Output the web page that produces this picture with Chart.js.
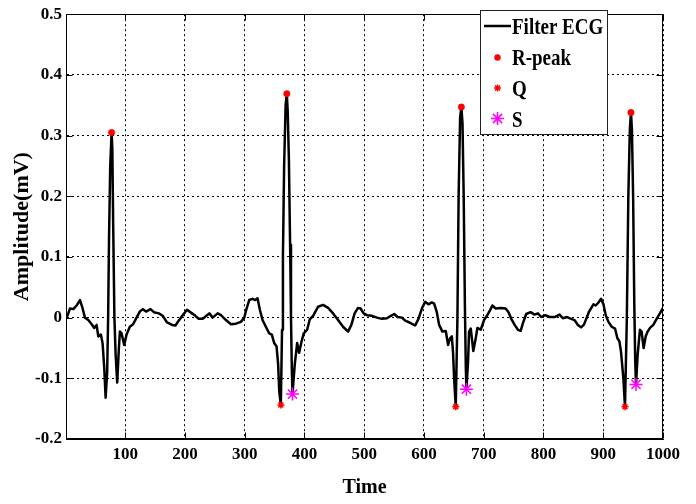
<!DOCTYPE html>
<html>
<head>
<meta charset="utf-8">
<script src="https://cdn.jsdelivr.net/npm/chart.js@4.4.0/dist/chart.umd.min.js"></script>
<style>
html,body{margin:0;padding:0;background:#fff;}
#wrap{position:relative;width:696px;height:504px;}
</style>
</head>
<body>
<div id="wrap"><canvas id="c" width="696" height="504"></canvas></div>
<script>
// ---- data ----
const ecgTime = [
  1.5,3.8,7.7,13.2,18.8,24.4,28.3,32.7,38.3,43.9,
  48.3,52.2,55,59.4,62.2,65,67.3,69.9,71.5,73,
  75,77.3,78.5,80,82,84,86.7,89.5,91.2,94,
  98.4,102.3,107.8,113.4,119,124.5,
  129.6,135,142.4,148,156.3,163,170.1,178.5,184.1,189.6,
  196.3,203.5,211.9,217.5,223,229.7,235.9,240.9,246.4,254.8,
  260.3,268.6,277,285.3,293.7,299.3,303.2,307.6,313.2,317.7,
  321.5,325.4,329.9,335.4,341.1,345.4,349.4,353.3,356,357.8,
  360.5,362.5,364,366,368.5,370.5,372,374,376,377.5,379,380,
  383.8,387.8,391.1,395,398.8,404.5,408.9,414.5,422.9,431.2,
  439.6,447.9,456.3,464.6,473,478.5,484,489.6,494,499,
  504.7,513,521.4,529.7,538.1,544.7,550.3,555.8,563.1,568.6,
  575.8,581.5,585.3,590.8,596.5,602,607.5,613.2,617,621.5,
  625.4,630.9,636.5,640.4,643.7,646.6,648.7,650.4,
  653.2,656,658,660.5,662.6,664.5,666.5,668.5,670,671,
  673.8,675.5,678.3,682.6,686.6,689.4,695,700.5,706,710.5,
  714.4,720,728.4,736.7,741.5,746.1,751.8,757.3,761.8,765.6,
  771.1,778.5,785.1,790.7,796.2,802.9,810.2,818.5,826.9,832.4,
  839.6,846.3,851.9,857.4,862.9,867.4,869.6,876.3,883.6,887.5,
  892,896.4,900.3,904.2,908.7,914.2,919.7,923.7,927,929.7,933.7,
  936.4,939.5,942,944.5,946.4,948,950,952,953.5,954.8,
  957.6,961.4,964.2,967.6,971,974.3,978.2,983.8,989.3,994.8,999.3,1000
];
const ecgAmp = [
  0,0.004,0.015,0.014,0.020,0.029,0.017,0,-0.004,-0.011,
  -0.017,-0.012,-0.031,-0.028,-0.042,-0.083,-0.132,-0.09,0,0.13,
  0.25,0.305,0.28,0.15,0,-0.06,-0.107,-0.050,-0.023,-0.026,
  -0.045,-0.028,-0.015,-0.011,0,0.010,
  0.014,0.010,0.014,0.009,0.007,0.003,-0.008,-0.012,-0.013,-0.005,
  0.004,0.013,0.007,0.003,-0.002,-0.002,0.003,0.007,0,0.007,
  0.004,-0.004,-0.011,-0.010,-0.007,0,0.015,0.029,0.031,0.029,
  0.032,0.013,-0.004,-0.015,-0.026,-0.028,-0.042,-0.047,-0.077,-0.121,
  -0.144,-0.02,0.1,0.25,0.35,0.369,0.34,0.26,0.12,0,-0.09,-0.126,
  -0.077,-0.042,-0.058,-0.040,-0.026,-0.020,-0.003,0.003,0.018,0.021,
  0.016,0.007,-0.004,-0.015,-0.023,-0.012,0.007,0.016,0.015,0.007,
  0.004,0.003,0,-0.002,-0.001,0.003,0.006,0.001,0,-0.005,
  -0.008,-0.011,-0.013,-0.002,0.015,0.026,0.022,0.025,0.023,0.009,
  -0.012,-0.023,-0.022,-0.045,-0.034,-0.031,-0.058,-0.099,
  -0.147,0,0.2,0.33,0.347,0.32,0.2,0.02,-0.08,-0.118,
  -0.072,-0.023,-0.018,-0.055,-0.034,-0.017,-0.020,-0.004,0.004,0.012,
  0.020,0.015,0.016,0.015,0.009,-0.002,-0.012,-0.020,-0.022,-0.009,
  0.006,0.009,0.005,0.007,0.001,0.004,0.001,0.001,0.005,-0.001,
  0.001,-0.002,-0.004,-0.012,-0.016,-0.012,-0.007,0.010,0.022,0.020,
  0.025,0.031,0.022,0.004,-0.007,-0.015,-0.018,-0.034,-0.039,-0.056,-0.100,
  -0.147,0,0.2,0.31,0.338,0.31,0.2,0.02,-0.07,-0.110,
  -0.061,-0.020,-0.023,-0.050,-0.031,-0.023,-0.017,-0.012,-0.002,0.007,0.015,0.016
];
const rPeakTime = [77.3, 370.5, 662.6, 946.4];
const rPeakAmp  = [0.305, 0.369, 0.347, 0.338];
const qTime = [360.5, 653.2, 936.4];
const qAmp  = [-0.144, -0.147, -0.147];
const sTime = [380, 671, 954.8];
const sAmp  = [-0.126, -0.118, -0.110];
const xTickValues = [100,200,300,400,500,600,700,800,900,1000];
const yTickValues = [-0.2,-0.1,0,0.1,0.2,0.3,0.4,0.5];
const seriesNames = ['Filter ECG','R-peak','Q','S'];
const xTitle = 'Time';
const yTitle = 'Amplitude(mV)';

// ---- chart ----
const FONT = 'Liberation Serif';
const toXY = (xs, ys) => xs.map((x, i) => ({x: x, y: ys[i]}));

function drawMarker(ctx, style, x, y, r, color, lw) {
  ctx.save();
  ctx.strokeStyle = color; ctx.fillStyle = color; ctx.lineWidth = lw;
  if (style === 'circle') {
    ctx.beginPath(); ctx.arc(x, y, r, 0, Math.PI * 2); ctx.fill();
  } else {
    ctx.beginPath();
    for (let k = 0; k < 4; k++) {
      const a = k * Math.PI / 4;
      ctx.moveTo(x - r * Math.cos(a), y - r * Math.sin(a));
      ctx.lineTo(x + r * Math.cos(a), y + r * Math.sin(a));
    }
    ctx.stroke();
  }
  ctx.restore();
}

const framePlugin = {
  id: 'frameLegend',
  afterDraw(chart) {
    const ctx = chart.ctx, a = chart.chartArea, xs = chart.scales.x, ys = chart.scales.y;
    ctx.save();
    ctx.strokeStyle = '#000'; ctx.lineWidth = 1;
    const L = Math.round(a.left) + 0.5, T = Math.round(a.top) + 0.5;
    const R = Math.round(a.right) - 0.5, B = Math.round(a.bottom) - 0.5;
    ctx.strokeRect(L, T, R - L, B - T);
    ctx.beginPath();
    xTickValues.forEach(v => {
      const px = Math.round(xs.getPixelForValue(v)) + 0.5;
      ctx.moveTo(px, B); ctx.lineTo(px, B - 6);
      ctx.moveTo(px, T); ctx.lineTo(px, T + 6);
    });
    yTickValues.forEach(v => {
      const py = Math.round(ys.getPixelForValue(v)) + 0.5;
      ctx.moveTo(L, py); ctx.lineTo(L + 6, py);
      ctx.moveTo(R, py); ctx.lineTo(R - 6, py);
    });
    ctx.stroke();

    // legend box
    const bx = 480.5, by = 10.5, bw = 127, bh = 124;
    ctx.fillStyle = '#fff';
    ctx.fillRect(bx, by, bw, bh);
    ctx.strokeStyle = '#222'; ctx.lineWidth = 1;
    ctx.strokeRect(bx, by, bw, bh);
    const rows = [26, 57.5, 88, 118.5];
    const ds = chart.data.datasets;
    ctx.strokeStyle = '#000'; ctx.lineWidth = 2.5;
    ctx.beginPath(); ctx.moveTo(484, rows[0]); ctx.lineTo(511, rows[0]); ctx.stroke();
    drawMarker(ctx, 'circle', 497.5, rows[1], 3.2, '#ff0000', 1);
    drawMarker(ctx, 'star', 497.5, rows[2], 3.5, '#ff0000', 1.5);
    drawMarker(ctx, 'star', 497.5, rows[3], 6.5, '#ff00ff', 1.5);
    ctx.fillStyle = '#000';
    ctx.font = 'bold 19px "' + FONT + '"';
    ctx.textBaseline = 'alphabetic';
    const baselines = [34, 65, 96, 127];
    for (let i = 0; i < ds.length; i++) {
      ctx.save();
      ctx.translate(512, baselines[i]);
      ctx.scale(1, 1.2);
      ctx.fillText(ds[i].label, 0, 0);
      ctx.restore();
    }
    ctx.restore();
  }
};

function build() {
  const ctx = document.getElementById('c').getContext('2d');
  new Chart(ctx, {
    type: 'scatter',
    data: {
      datasets: [
        {label: seriesNames[0], data: toXY(ecgTime, ecgAmp), showLine: true, borderColor: '#000',
         backgroundColor: '#000', borderWidth: 2.5, pointRadius: 0, tension: 0, order: 2,
         borderJoinStyle: 'round', borderCapStyle: 'round'},
        {label: seriesNames[1], data: toXY(rPeakTime, rPeakAmp), showLine: false, pointStyle: 'circle',
         pointRadius: 3.2, backgroundColor: '#ff0000', borderColor: '#ff0000', borderWidth: 0.5, order: 1},
        {label: seriesNames[2], data: toXY(qTime, qAmp), showLine: false, pointStyle: 'star',
         pointRadius: 3.5, backgroundColor: '#ff0000', borderColor: '#ff0000', borderWidth: 1.5, order: 1},
        {label: seriesNames[3], data: toXY(sTime, sAmp), showLine: false, pointStyle: 'star',
         pointRadius: 6.5, backgroundColor: '#ff00ff', borderColor: '#ff00ff', borderWidth: 1.5, order: 1}
      ]
    },
    options: {
      responsive: false, animation: false, devicePixelRatio: 1,
      layout: {padding: {left: 0, right: 33, top: 10, bottom: 0}},
      plugins: {legend: {display: false}, tooltip: {enabled: false}},
      scales: {
        x: {
          type: 'linear', min: 1, max: 1000,
          afterBuildTicks(s) { s.ticks = xTickValues.map(v => ({value: v})); },
          afterFit(s) { s.height = 65; },
          ticks: {font: {family: FONT, size: 17, weight: 'bold'}, color: '#000', padding: 5,
                  maxRotation: 0, autoSkip: false, callback: v => String(v)},
          grid: {color: '#000', lineWidth: 1, drawTicks: false},
          border: {display: true, color: '#000', width: 1, dash: [2, 3]},
          title: {display: true, text: xTitle, color: '#000',
                  font: {family: FONT, size: 20, weight: 'bold'}, padding: {top: 0, bottom: 4}}
        },
        y: {
          type: 'linear', min: -0.2, max: 0.5,
          afterBuildTicks(s) { s.ticks = yTickValues.map(v => ({value: v})); },
          afterFit(s) { s.width = 66; },
          ticks: {font: {family: FONT, size: 17, weight: 'bold'}, color: '#000', padding: 4,
                  autoSkip: false, callback: v => String(Math.round(v * 10) / 10)},
          grid: {color: '#000', lineWidth: 1, drawTicks: false},
          border: {display: true, color: '#000', width: 1, dash: [2, 3]},
          title: {display: true, text: yTitle, color: '#000',
                  font: {family: FONT, size: 22, weight: 'bold'}, padding: {top: 9, bottom: 0}}
        }
      }
    },
    plugins: [framePlugin]
  });
}

if (document.fonts && document.fonts.load) {
  Promise.all([
    document.fonts.load('bold 17px "' + FONT + '"'),
    document.fonts.load('bold 22px "' + FONT + '"')
  ]).then(build, build);
} else {
  build();
}
</script>
</body>
</html>
